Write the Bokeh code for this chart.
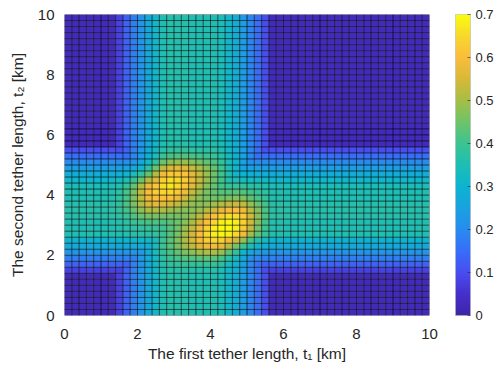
import numpy as np
from bokeh.plotting import figure
from bokeh.models import LinearColorMapper, FixedTicker, ColumnDataSource
from bokeh.layouts import row
from bokeh.embed import file_html
from bokeh.resources import INLINE

# ---------------- data ----------------
cell_size = 0.2  # km, 50 x 50 cells over 0..10 km
t1_profile = [0.03, 0.03, 0.03, 0.03, 0.03, 0.03, 0.03,
              0.08, 0.13, 0.18, 0.22, 0.27, 0.31,
              0.35, 0.36, 0.36, 0.36, 0.35, 0.35, 0.35, 0.35, 0.34,
              0.31, 0.28, 0.24, 0.19, 0.15, 0.10,
              0.03, 0.03, 0.03, 0.03, 0.03, 0.03, 0.03, 0.03, 0.03, 0.03, 0.03,
              0.03, 0.03, 0.03, 0.03, 0.03, 0.03, 0.03, 0.03, 0.03, 0.03, 0.03]
t2_profile = [0.03, 0.03, 0.03, 0.03, 0.03, 0.03, 0.03,
              0.08, 0.13, 0.18, 0.22, 0.27, 0.30,
              0.35, 0.35, 0.35, 0.36, 0.36, 0.36, 0.35, 0.35, 0.34,
              0.31, 0.28, 0.24, 0.20, 0.15, 0.10,
              0.03, 0.03, 0.03, 0.03, 0.03, 0.03, 0.03, 0.03, 0.03, 0.03, 0.03,
              0.03, 0.03, 0.03, 0.03, 0.03, 0.03, 0.03, 0.03, 0.03, 0.03, 0.03]
peak_t1 = [2.85, 4.40]
peak_t2 = [4.32, 2.90]
peak_height = [0.31, 0.36]
peak_spread_along = [0.9, 0.9]     # along the main axis of each bump
peak_spread_across = [0.55, 0.55]  # across it
peak_tilt_deg = [32, 32]           # main axis angle from the t1 axis

x_ticks = [0, 2, 4, 6, 8, 10]
y_ticks = [0, 2, 4, 6, 8, 10]
cbar_ticks = [0, 0.1, 0.2, 0.3, 0.4, 0.5, 0.6, 0.7]
cbar_labels = ["0", "0.1", "0.2", "0.3", "0.4", "0.5", "0.6", "0.7"]
z_low, z_high = 0.0, 0.7

# ---------------- build the grid ----------------
P1 = np.array(t1_profile)
P2 = np.array(t2_profile)
n1, n2 = len(P1), len(P2)
xc = (np.arange(n1) + 0.5) * cell_size
yc = (np.arange(n2) + 0.5) * cell_size
X, Y = np.meshgrid(xc, yc)
P1g, P2g = np.meshgrid(P1, P2)
Z = np.maximum(P1g, P2g)
mask = np.minimum(np.clip(P1g / 0.25, 0, 1), np.clip(P2g / 0.25, 0, 1))
for cx, cy, h, sa, sc, ang in zip(peak_t1, peak_t2, peak_height, peak_spread_along,
                                  peak_spread_across, peak_tilt_deg):
    th = np.deg2rad(ang)
    dx, dy = X - cx, Y - cy
    a = dx * np.cos(th) + dy * np.sin(th)
    c = -dx * np.sin(th) + dy * np.cos(th)
    Z = Z + h * np.exp(-(a ** 2) / (2 * sa ** 2) - (c ** 2) / (2 * sc ** 2)) * mask

# parula-like palette
anchors = [
    (0.000, (62, 38, 168)), (0.0714, (70, 47, 205)), (0.143, (72, 78, 240)),
    (0.214, (55, 110, 250)), (0.286, (40, 140, 238)), (0.357, (25, 162, 225)),
    (0.429, (12, 180, 208)), (0.500, (30, 190, 180)), (0.571, (60, 195, 145)),
    (0.643, (110, 195, 105)), (0.714, (165, 190, 70)), (0.786, (215, 185, 55)),
    (0.857, (250, 188, 60)), (0.929, (248, 215, 45)), (1.000, (249, 251, 14)),
]
ts = np.array([a[0] for a in anchors])
cols = np.array([a[1] for a in anchors], dtype=float)
grid = np.linspace(0, 1, 256)
palette = ["#%02x%02x%02x" % tuple(int(round(np.interp(g, ts, cols[:, k]))) for k in range(3)) for g in grid]
mapper = LinearColorMapper(palette=palette, low=z_low, high=z_high)

src = ColumnDataSource(dict(x=X.ravel(), y=Y.ravel(), z=Z.ravel()))

text_color = "#262626"
FONT = "Liberation Sans"

p = figure(width=440, height=367, x_range=(0, 10), y_range=(0, 10),
           output_backend="svg", toolbar_location=None,
           min_border_left=64, min_border_right=11, min_border_top=14, min_border_bottom=52)
p.rect(x="x", y="y", width=cell_size, height=cell_size, source=src,
       fill_color={"field": "z", "transform": mapper}, line_color=None)

# cell edges
x_edges = np.concatenate([xc - cell_size / 2, [xc[-1] + cell_size / 2]])
y_edges = np.concatenate([yc - cell_size / 2, [yc[-1] + cell_size / 2]])
p.segment(x0=x_edges, y0=0, x1=x_edges, y1=10, line_color="black", line_alpha=0.7, line_width=0.9)
p.segment(x0=0, y0=y_edges, x1=10, y1=y_edges, line_color="black", line_alpha=0.7, line_width=0.9)

p.grid.visible = False
p.outline_line_color = None
for ax in (p.xaxis[0], p.yaxis[0]):
    ax.axis_line_color = None
    ax.major_tick_line_color = None
    ax.minor_tick_line_color = None
    ax.major_label_text_font = FONT
    ax.major_label_text_font_size = "15px"
    ax.major_label_text_color = text_color
    ax.axis_label_text_font = FONT
    ax.axis_label_text_font_size = "15.5px"
    ax.axis_label_text_font_style = "normal"
    ax.axis_label_text_color = text_color
p.xaxis.ticker = FixedTicker(ticks=x_ticks)
p.yaxis.ticker = FixedTicker(ticks=y_ticks)
p.xaxis.axis_label = "The first tether length, t\u2081 [km]"
p.yaxis.axis_label = "The second tether length, t\u2082 [km]"
p.xaxis.major_label_standoff = 7
p.yaxis.major_label_standoff = 4
p.xaxis.axis_label_standoff = 3
p.yaxis.axis_label_standoff = 9

# colorbar
cb = figure(width=60, height=367, x_range=(0, 1), y_range=(z_low, z_high),
            output_backend="svg", toolbar_location=None,
            min_border_left=15, min_border_right=30, min_border_top=14, min_border_bottom=52,
            y_axis_location="right")
cb.image(image=[np.linspace(z_low, z_high, 256).reshape(256, 1)], x=0, y=z_low, dw=1,
         dh=z_high - z_low, color_mapper=mapper)
cb.grid.visible = False
cb.xaxis.visible = False
cb.outline_line_color = "#555555"
cb.outline_line_alpha = 0.3
ya = cb.yaxis[0]
ya.ticker = FixedTicker(ticks=cbar_ticks)
ya.major_label_overrides = {t: l for t, l in zip(cbar_ticks, cbar_labels)}
ya.axis_line_color = None
ya.major_tick_in = 3
ya.major_tick_out = 0
ya.major_tick_line_color = "#262626"
ya.major_tick_line_alpha = 0.6
ya.minor_tick_line_color = None
ya.major_label_standoff = 5
ya.major_label_text_font = FONT
ya.major_label_text_font_size = "13px"
ya.major_label_text_color = text_color

layout = row(p, cb)
open("out.html", "w").write(file_html(layout, INLINE))
